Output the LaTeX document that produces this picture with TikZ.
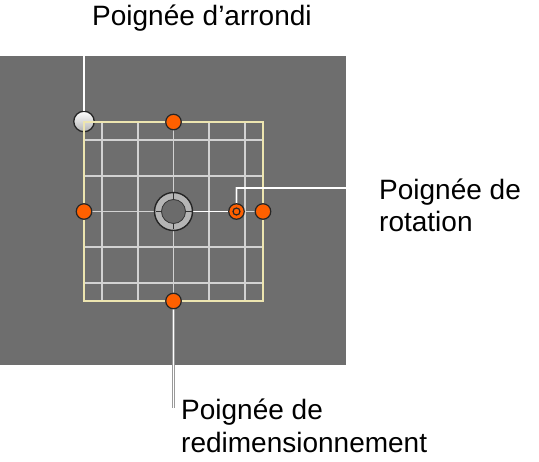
\documentclass[tikz,border=0pt]{standalone}
\usepackage{fontspec}
\setmainfont{Liberation Sans}
\definecolor{panelgray}{HTML}{6E6E6E}
\definecolor{handleorange}{HTML}{FF6000}
\definecolor{framecream}{HTML}{EDE5B0}
\definecolor{gridgray}{HTML}{D2D2D2}

\begin{document}
\begin{tikzpicture}[x=1pt,y=-1pt]
\tikzset{handle/.style={circle,draw=black!85,line width=1.2pt,fill=handleorange,minimum size=15.5pt,inner sep=0pt}}
\tikzset{callout/.style={draw=black!40,double=white,double distance=1.5pt,line width=0.7pt}}
\tikzset{lbl/.style={font=\fontsize{28}{33}\selectfont,inner sep=0pt,anchor=base west}}
\useasboundingbox (0,0) rectangle (539,462);
\fill[panelgray] (0,56) rectangle (346,365);
% grid
\foreach \k in {-2,...,2} {
  \draw[gridgray,line width=1.8pt] (173.5+35.8*\k,122) -- (173.5+35.8*\k,301);
  \draw[gridgray,line width=1.8pt] (84,211.5+35.8*\k) -- (263,211.5+35.8*\k);
}
\coordinate (c) at (173.5,211.5);
\coordinate (r) at (236.5,211.5);
\draw[white,line width=1.8pt] (c) -- (r);
% roundness handle and frame
\node[circle,draw=black!85,line width=1.3pt,top color=white,bottom color=black!30,minimum size=20.5pt,inner sep=0pt] (round) at (84,121.5) {};
\draw[framecream,line width=1.6pt] (84,122) rectangle (263,301);
% callouts
\coordinate (roundend) at (84,16);
\coordinate (rotend) at (373,188);
\coordinate (resizeend) at (173.5,408);
\draw[callout] (round.north) -- (roundend);
\draw[callout] ([yshift=-7.5pt]r) |- (rotend);
\draw[callout] ([yshift=7.5pt]173.5,301) -- (resizeend);
% handles
\node[handle] (resizeN) at (173.5,122) {};
\node[handle] (resizeS) at (173.5,301) {};
\node[handle] (resizeW) at (84,211.5) {};
\node[handle] (resizeE) at (263,211.5) {};
\node[handle] (rot) at (r) {};
\draw[black!85,line width=1.2pt] (rot) circle (3.5pt);
% pivot
\node[circle,draw=black!85,line width=1.4pt,fill=black!29,minimum size=38pt,inner sep=0pt] (pivot) at (c) {};
\fill[black!58] (c) circle (12pt);
\draw[black!80,line width=0.8pt] (c) circle (12pt);
\foreach \a in {0,90,180,270}
  \draw[black!80,line width=1pt] ([shift={(\a:12pt)}]c) -- ([shift={(\a:18pt)}]c);
% labels
\node[lbl] (roundlbl) at (92,26) {Poignée d’arrondi};
\node[lbl] (rotlbl) at (379,200) {Poignée de};
\node[lbl] (rotlbl2) at (379,232) {rotation};
\node[lbl] (resizelbl) at (181,420) {Poignée de};
\node[lbl] (resizelbl2) at (181,453) {redimensionnement};
\end{tikzpicture}
\end{document}
